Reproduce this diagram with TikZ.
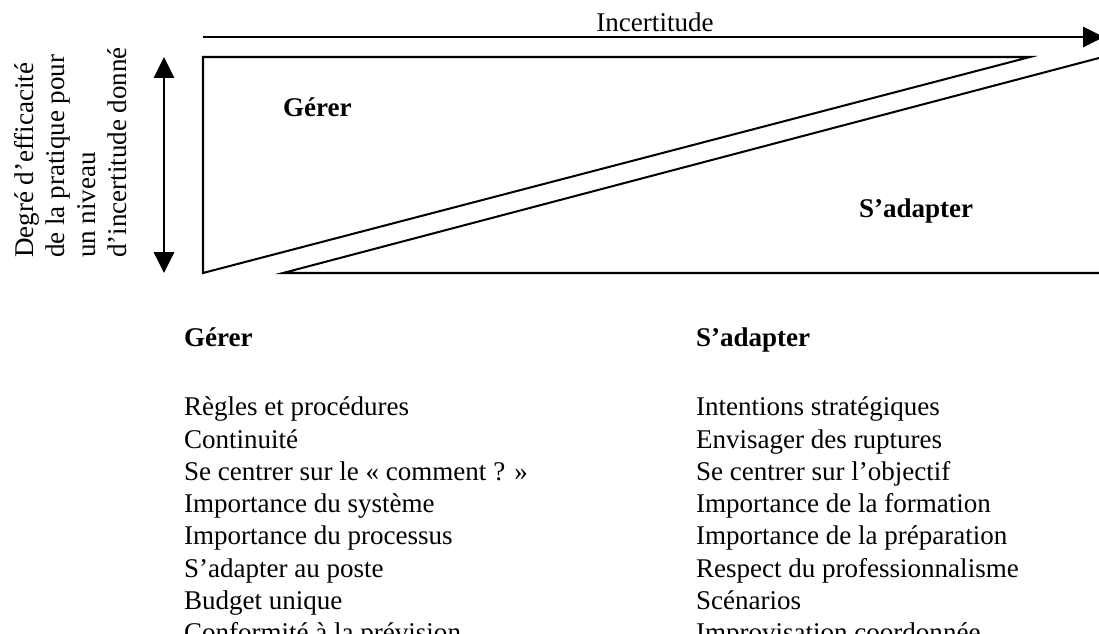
\documentclass[tikz,border=0pt]{standalone}
\usepackage{fontspec}
\setmainfont{Liberation Serif}
\usetikzlibrary{arrows.meta}
\usetikzlibrary{positioning}

\begin{document}
\begin{tikzpicture}[x=0.444pt,y=-0.444pt,line width=0.9pt,
  >={Triangle[length=9.3pt,width=9pt]},
  txt/.style={inner sep=0pt,font=\fontsize{12}{13.8}\selectfont},
  head/.style={inner sep=0pt,font=\fontsize{12}{13.8}\selectfont\bfseries},
  item/.style={txt,text height=9.6pt,text depth=3.8pt}]

  \useasboundingbox (0,0) rectangle (1099,634);

  % axes
  \coordinate (xa) at (203,37);
  \coordinate (xb) at (1104,37);
  \coordinate (ya) at (164,57);
  \coordinate (yb) at (164,273);
  \draw[->] (xa) -- (xb);
  \draw[<->] (ya) -- (yb);
  \node[txt,anchor=base] (inc) at (655,32) {Incertitude};
  \node[txt,rotate=90,anchor=north west,align=left] (deg) at (13,259)
    {Degré d’efficacité\\de la pratique pour\\un niveau\\d’incertitude donné};

  % the two wedges
  \coordinate (t1) at (203,57);
  \coordinate (t2) at (1030,57);
  \coordinate (t3) at (203,273);
  \draw (t1) -- (t2) -- (t3) -- cycle;
  \coordinate (s1) at (1099,58);
  \coordinate (s2) at (283,273);
  \coordinate (s3) at (1099,273);
  \draw (s1) -- (s2) -- (s3);
  \node[head,anchor=base west] (ger) at (282,117) {Gérer};
  \node[head,anchor=base west] (ada) at (858,218) {S’adapter};

  % Gérer column
  \node[head,anchor=base west] (gh) at (183,347) {Gérer};
  \node[item,anchor=base west] (g1) at (183,416) {Règles et procédures};
  \node[item] (g2) [below right=0pt and 0pt of g1.south west] {Continuité};
  \node[item] (g3) [below right=0pt and 0pt of g2.south west] {Se centrer sur le « comment ? »};
  \node[item] (g4) [below right=0pt and 0pt of g3.south west] {Importance du système};
  \node[item] (g5) [below right=0pt and 0pt of g4.south west] {Importance du processus};
  \node[item] (g6) [below right=0pt and 0pt of g5.south west] {S’adapter au poste};
  \node[item] (g7) [below right=0pt and 0pt of g6.south west] {Budget unique};
  \node[item] (g8) [below right=0pt and 0pt of g7.south west] {Conformité à la prévision};

  % S'adapter column
  \node[head,anchor=base west] (ah) at (695,347) {S’adapter};
  \node[item,anchor=base west] (a1) at (695,416) {Intentions stratégiques};
  \node[item] (a2) [below right=0pt and 0pt of a1.south west] {Envisager des ruptures};
  \node[item] (a3) [below right=0pt and 0pt of a2.south west] {Se centrer sur l’objectif};
  \node[item] (a4) [below right=0pt and 0pt of a3.south west] {Importance de la formation};
  \node[item] (a5) [below right=0pt and 0pt of a4.south west] {Importance de la préparation};
  \node[item] (a6) [below right=0pt and 0pt of a5.south west] {Respect du professionnalisme};
  \node[item] (a7) [below right=0pt and 0pt of a6.south west] {Scénarios};
  \node[item] (a8) [below right=0pt and 0pt of a7.south west] {Improvisation coordonnée};
\end{tikzpicture}
\end{document}
